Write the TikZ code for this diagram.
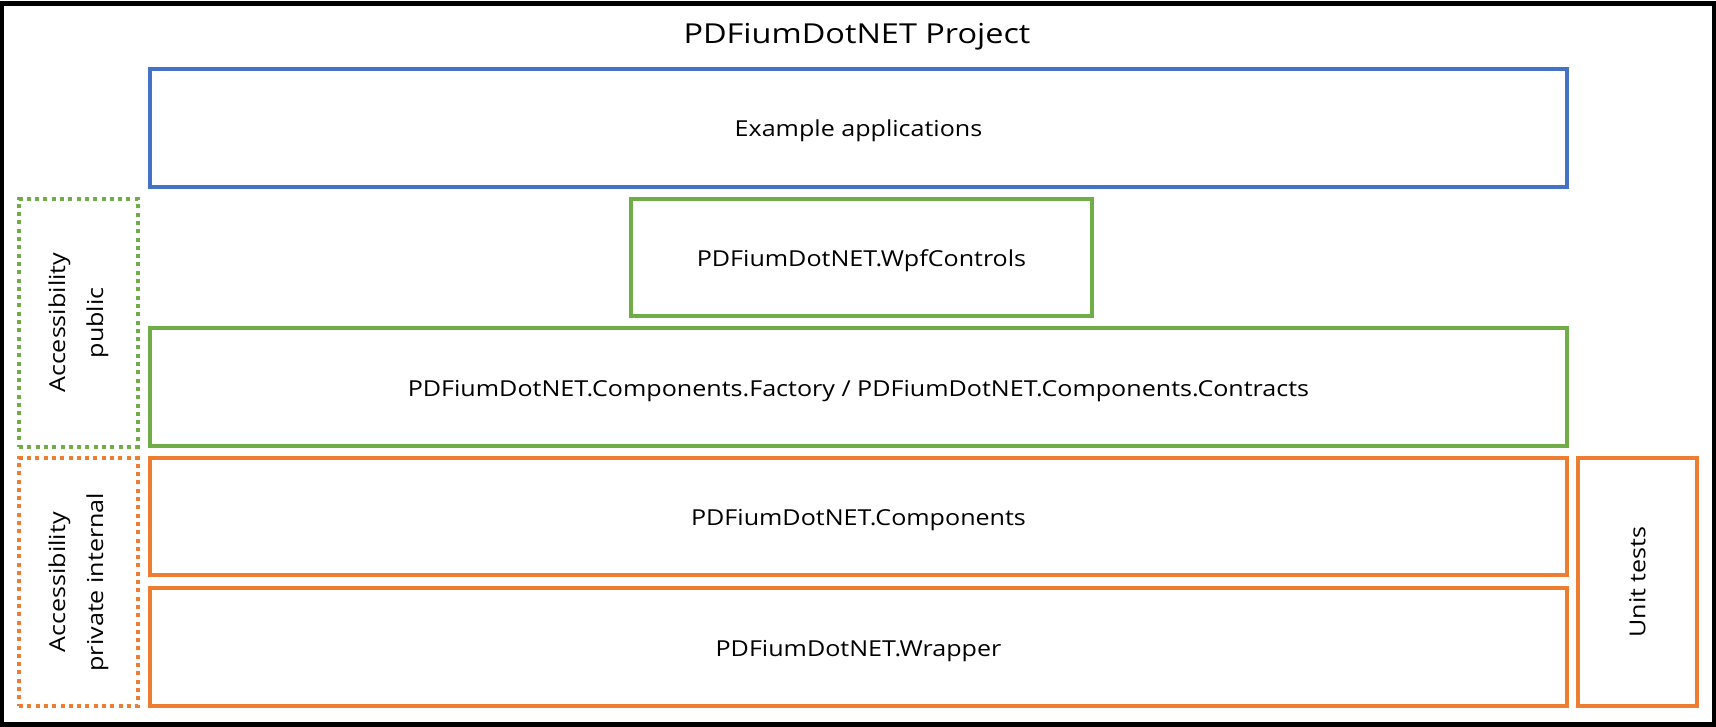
\documentclass[tikz,border=0pt]{standalone}
\usepackage{fontspec}
\setmainfont{Open Sans}[FakeStretch=1.14]
\newfontfamily\titlefont{Open Sans}[FakeStretch=1.18]
\usetikzlibrary{positioning}
\definecolor{layerblue}{HTML}{4472C4}
\definecolor{layergreen}{HTML}{70AD47}
\definecolor{layerorange}{HTML}{ED7D31}
\begin{document}
\begin{tikzpicture}[x=1pt, y=-1pt]
			\tikzset{
				layer/.style={draw, line width=4pt, minimum width=1417pt, minimum height=118pt, inner sep=0pt, text height=18pt, text depth=0pt, font=\fontsize{22}{38}\selectfont},
				access/.style={draw, line width=4pt, dash pattern=on 4pt off 4.3pt, minimum width=118.7pt, minimum height=247.5pt, inner sep=0pt},
				sidetext/.style={rotate=90, align=center, font=\fontsize{22}{38}\selectfont},
			}
			\useasboundingbox (0, 0) rectangle (1716, 727);
			\draw[line width=4.6pt] (1.8, 3.5) rectangle (1713.8, 724.5);

			\node[anchor=base, font=\titlefont\fontsize{27.5}{33}\selectfont] (title) at (857, 43.3) {PDFiumDotNET Project};

			% layers
			\node[layer, layerblue, text=black] (examples) at (858.5, 128) {Example applications};
			\node[layer, layergreen, text=black, minimum width=461pt, minimum height=117pt] (wpf) at (861.5, 257.8) {PDFiumDotNET.WpfControls};
			\node[layer, layergreen, text=black] (factory) at (858.5, 387) {PDFiumDotNET.Components.Factory / PDFiumDotNET.Components.Contracts};
			\node[layer, layerorange, text=black, minimum height=117.3pt] (components) at (858.5, 516.7) {PDFiumDotNET.Components};
			\node[layer, layerorange, text=black] (wrapper) at (858.5, 647) {PDFiumDotNET.Wrapper};
			\node[layer, layerorange, text=black, minimum width=119pt, minimum height=248pt] (tests) at (1637.5, 582) {};
			\node[sidetext] (testslabel) at (tests.center) {Unit tests};

			% accessibility
			\node[access, layergreen] (public) at (78.4, 322.8) {};
			\node[sidetext] (publiclabel) at (public.center) {Accessibility\\public};
			\node[access, layerorange, minimum height=247.7pt] (private) at (78.4, 582.2) {};
			\node[sidetext] (privatelabel) at (private.center) {Accessibility\\private internal};
		\end{tikzpicture}
\end{document}
